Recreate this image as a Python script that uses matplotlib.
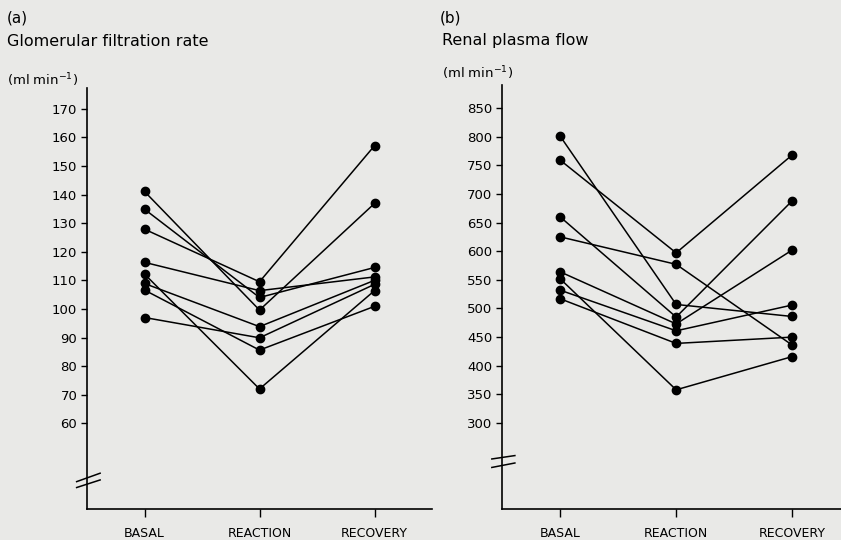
import matplotlib.pyplot as plt

# Stages on the x axis
stages = ['BASAL', 'REACTION', 'RECOVERY']

# (a) Glomerular filtration rate, ml/min, one entry per subject
gfr_basal = [141.1, 134.9, 127.9, 116.3, 112.2, 108.9, 106.6, 97.0]
gfr_reaction = [99.6, 104.0, 109.5, 106.4, 72.0, 93.8, 85.6, 89.9]
gfr_recovery = [136.9, 114.5, 157.1, 111.2, 106.4, 110.0, 100.9, 108.6]
gfr_ticks = [60, 70, 80, 90, 100, 110, 120, 130, 140, 150, 160, 170]

# (b) Renal plasma flow, ml/min
rpf_basal = [801, 759, 660, 625, 564, 552, 532, 517]
rpf_reaction = [507, 597, 485, 577, 473, 358, 461, 439]
rpf_recovery = [486, 768, 688, 436, 602, 416, 506, 450]
rpf_ticks = [300, 350, 400, 450, 500, 550, 600, 650, 700, 750, 800, 850]

bg = '#e9e9e7'
W, H = 841, 540
fig = plt.figure(figsize=(W / 100, H / 100), dpi=100, facecolor=bg)


def axes_px(x0, y0, x1, y1):
    # pixel box (top-left origin) -> figure fraction
    return fig.add_axes([x0 / W, 1 - y1 / H, (x1 - x0) / W, (y1 - y0) / H])


def draw_panel(ax, basal, reaction, recovery, ticks, ylim, xmax, brk):
    ax.set_facecolor(bg)
    for b, r, c in zip(basal, reaction, recovery):
        ax.plot(range(len(stages)), [b, r, c], '-o', color='black',
                lw=1.1, ms=6, clip_on=False)
    ax.set_xlim(-0.5, xmax)
    ax.set_ylim(*ylim)
    ax.set_xticks(range(len(stages)))
    ax.set_xticklabels(stages)
    ax.set_yticks(ticks)
    for s in ['top', 'right']:
        ax.spines[s].set_visible(False)
    for s in ['left', 'bottom']:
        ax.spines[s].set_linewidth(1.2)
    ax.tick_params(axis='y', direction='out', length=4, width=1.0,
                   labelsize=9.5, pad=3)
    ax.tick_params(axis='x', direction='out', length=6, width=1.0,
                   labelsize=9, pad=7)
    # axis break marks
    for y0, y1 in brk:
        ax.plot([-0.03, 0.038], [y0, y1], color='black', lw=1.1,
                transform=ax.transAxes, clip_on=False)


ax1 = axes_px(87, 88, 432, 509)
draw_panel(ax1, gfr_basal, gfr_reaction, gfr_recovery, gfr_ticks,
           (30, 177.3), 2.5, [(0.065, 0.085), (0.051, 0.069)])

ax2 = axes_px(502, 85, 841, 509)
draw_panel(ax2, rpf_basal, rpf_reaction, rpf_recovery, rpf_ticks,
           (150, 890), 2.42, [(0.118, 0.126), (0.098, 0.1085)])

# panel titles and units
fig.text(7 / W, 1 - 18 / H, '(a)', fontsize=11, va='center', ha='left')
fig.text(7 / W, 1 - 42 / H, 'Glomerular filtration rate', fontsize=11.5,
         va='center', ha='left')
fig.text(7 / W, 1 - 80 / H, '(ml min$^{-1}$)', fontsize=9.5,
         va='center', ha='left')
fig.text(440 / W, 1 - 18 / H, '(b)', fontsize=11, va='center', ha='left')
fig.text(442 / W, 1 - 40 / H, 'Renal plasma flow', fontsize=11.5,
         va='center', ha='left')
fig.text(442 / W, 1 - 73 / H, '(ml min$^{-1}$)', fontsize=9.5,
         va='center', ha='left')

fig.savefig('out.png', dpi=100, facecolor=bg)
